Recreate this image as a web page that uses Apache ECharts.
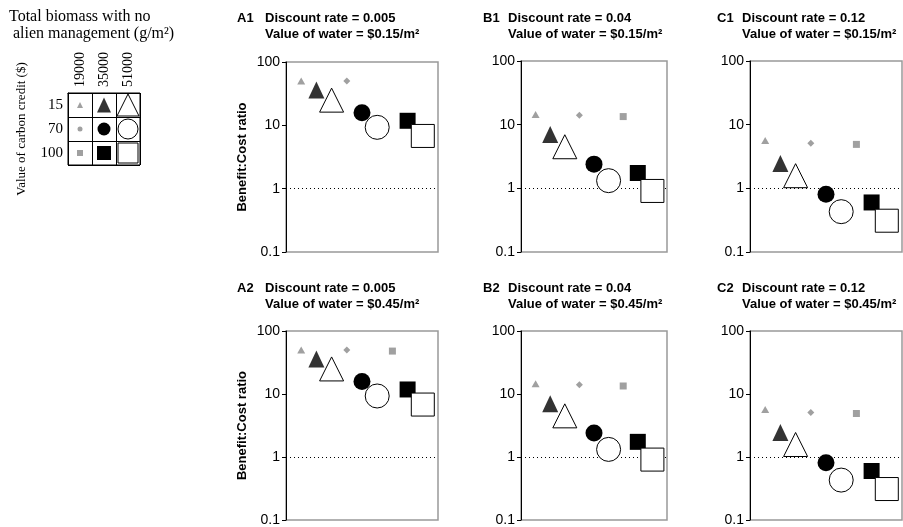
<!DOCTYPE html>
<html>
<head>
<meta charset="utf-8">
<script src="https://cdn.jsdelivr.net/npm/echarts@6/dist/echarts.min.js"></script>
<style>html,body{margin:0;padding:0;background:#fff}#c{width:903px;height:527px}</style>
</head>
<body>
<div id="c"></div>
<script>
// ---- data ----
const biomassLevels = ['19000', '35000', '51000'];          // g/m2
const carbonCredits = ['15', '70', '100'];                   // $
// scenario order: credit 15 (19000,35000,51000), credit 70 (...), credit 100 (...)
const scenarioIndex = [1, 2, 3, 4, 5, 6, 7, 8, 9];
const panelIds = ['A1', 'B1', 'C1', 'A2', 'B2', 'C2'];
const discountRates = ['0.005', '0.04', '0.12', '0.005', '0.04', '0.12'];
const waterValues = ['$0.15/m²', '$0.15/m²', '$0.15/m²', '$0.45/m²', '$0.45/m²', '$0.45/m²'];
const ratioA1 = [50, 36, 25, 50, 15.8, 9.3, null, 11.8, 6.8];
const ratioB1 = [14.5, 7, 4.5, 14, 2.4, 1.32, 13.4, 1.74, 0.91];
const ratioC1 = [5.65, 2.45, 1.58, 5.1, 0.81, 0.43, 4.9, 0.6, 0.31];
const ratioA2 = [50, 36, 25, 50, 15.8, 9.3, 48, 11.8, 6.8];
const ratioB2 = [14.5, 7, 4.5, 14, 2.4, 1.32, 13.4, 1.74, 0.91];
const ratioC2 = [5.65, 2.45, 1.58, 5.1, 0.81, 0.43, 4.9, 0.6, 0.31];
const yTicks = [0.1, 1, 10, 100];
const breakEven = 1;

// ---- styles / layout ----
const panelData = [ratioA1, ratioB1, ratioC1, ratioA2, ratioB2, ratioC2];
const GRAY = '#a0a0a0';
const markerStyles = [
  {symbol: 'triangle', size: [8, 7], color: GRAY},
  {symbol: 'triangle', size: [16, 17], color: '#333'},
  {symbol: 'triangle', size: [24, 24], color: '#fff', border: '#000'},
  {symbol: 'diamond', size: [7, 7], color: GRAY},
  {symbol: 'circle', size: 17, color: '#000'},
  {symbol: 'circle', size: 24, color: '#fff', border: '#000'},
  {symbol: 'rect', size: 7, color: GRAY},
  {symbol: 'rect', size: 16, color: '#000'},
  {symbol: 'rect', size: 23, color: '#fff', border: '#000'}
];
const legendSizes = [[6, 6], [14, 15], [22, 22], 5, 13, 20, 6, 14, 20];
const legendSymbols = ['triangle', 'triangle', 'triangle', 'circle', 'circle', 'circle', 'rect', 'rect', 'rect'];
const gridPos = [
  {left: 286, top: 62, width: 152, height: 190},
  {left: 521, top: 61, width: 146, height: 191},
  {left: 750, top: 61, width: 152, height: 191},
  {left: 286, top: 331, width: 152, height: 190},
  {left: 521, top: 331, width: 146, height: 190},
  {left: 750, top: 331, width: 152, height: 190}
];
const titlePos = [
  {id: 237, tx: 265, y: 10}, {id: 483, tx: 508, y: 10}, {id: 717, tx: 742, y: 10},
  {id: 237, tx: 265, y: 280}, {id: 483, tx: 508, y: 280}, {id: 717, tx: 742, y: 280}
];

const grids = [], xAxes = [], yAxes = [], series = [], titles = [];
const sans = 'Liberation Sans, Arial, sans-serif';
const serif = 'Liberation Serif, Times New Roman, serif';

function markStyle(st) {
  return {color: st.color, borderColor: st.border || st.color, borderWidth: st.border ? 1 : 0, opacity: 1};
}

panelIds.forEach((pid, p) => {
  grids.push(Object.assign({show: true, borderColor: '#999', borderWidth: 1.5, containLabel: false}, gridPos[p]));
  xAxes.push({type: 'value', gridIndex: p, min: 0, max: 10, show: false});
  yAxes.push({
    type: 'log', logBase: 10, gridIndex: p, min: yTicks[0], max: yTicks[yTicks.length - 1], interval: 1,
    axisLine: {show: true, lineStyle: {color: '#000', width: 1}},
    axisTick: {show: true, inside: false, length: 4, lineStyle: {color: '#000'}},
    minorTick: {show: false}, splitLine: {show: false},
    axisLabel: {fontFamily: sans, fontSize: 14, color: '#000', margin: 6,
      formatter: v => String(parseFloat(Number(v).toPrecision(3)))},
    name: (p % 3 === 0) ? 'Benefit:Cost ratio' : '',
    nameLocation: 'middle', nameGap: 37,
    nameTextStyle: {fontFamily: sans, fontSize: 13, fontWeight: 'bold', color: '#000'}
  });
  const vals = panelData[p];
  const data = [];
  scenarioIndex.forEach((sx, i) => {
    if (vals[i] == null) return;
    const st = markerStyles[i];
    data.push({value: [sx, vals[i]], symbol: st.symbol, symbolSize: st.size, itemStyle: markStyle(st)});
  });
  series.push({
    type: 'scatter', xAxisIndex: p, yAxisIndex: p, data: data, z: 3,
    itemStyle: {opacity: 1}, emphasis: {disabled: true},
    markLine: {silent: true, symbol: ['none', 'none'], label: {show: false},
      lineStyle: {type: [1, 3], color: '#000', width: 1, opacity: 1}, data: [{yAxis: breakEven}], z: 1,
      emphasis: {disabled: true}}
  });
  const tp = titlePos[p];
  titles.push({text: pid, left: tp.id, top: tp.y, padding: 0,
    textStyle: {fontFamily: sans, fontSize: 13, fontWeight: 'bold', color: '#000', lineHeight: 16}});
  titles.push({text: 'Discount rate = ' + discountRates[p] + '\nValue of water = ' + waterValues[p],
    left: tp.tx, top: tp.y, padding: 0,
    textStyle: {fontFamily: sans, fontSize: 13, fontWeight: 'bold', color: '#000', lineHeight: 16}});
});

// legend key grid
const L = 6;
grids.push({show: true, left: 68, top: 93, width: 72, height: 72, borderColor: '#000', borderWidth: 1});
xAxes.push({type: 'category', gridIndex: L, data: biomassLevels, position: 'top',
  axisLine: {show: true, lineStyle: {color: '#000'}}, axisTick: {show: false},
  axisLabel: {rotate: -90, fontFamily: serif, fontSize: 14, color: '#000', margin: 6},
  splitLine: {show: true, lineStyle: {color: '#000', width: 1}}});
yAxes.push({type: 'category', gridIndex: L, data: carbonCredits, inverse: true,
  axisLine: {show: true, lineStyle: {color: '#000'}}, axisTick: {show: false},
  axisLabel: {fontFamily: serif, fontSize: 15, color: '#000', margin: 5},
  splitLine: {show: true, lineStyle: {color: '#000', width: 1}},
  name: 'Value of carbon credit ($)', nameLocation: 'middle', nameGap: 40,
  nameTextStyle: {fontFamily: serif, fontSize: 13, color: '#000'}});
const legendData = [];
carbonCredits.forEach((c, r) => biomassLevels.forEach((b, k) => {
  const i = r * 3 + k, st = markerStyles[i];
  legendData.push({value: [b, c], symbol: legendSymbols[i], symbolSize: legendSizes[i], itemStyle: markStyle(st)});
}));
series.push({type: 'scatter', xAxisIndex: L, yAxisIndex: L, data: legendData, z: 3,
  itemStyle: {opacity: 1}, emphasis: {disabled: true}});
titles.push({text: 'Total biomass with no\n alien management (g/m²)', left: 9, top: 8, padding: 0,
  textStyle: {fontFamily: serif, fontSize: 16, fontWeight: 'normal', color: '#000', lineHeight: 17}});

const chart = echarts.init(document.getElementById('c'), null, {renderer: 'canvas'});
chart.setOption({
  animation: false, backgroundColor: '#fff',
  title: titles, grid: grids, xAxis: xAxes, yAxis: yAxes, series: series, tooltip: {show: false}
});
</script>
</body>
</html>
